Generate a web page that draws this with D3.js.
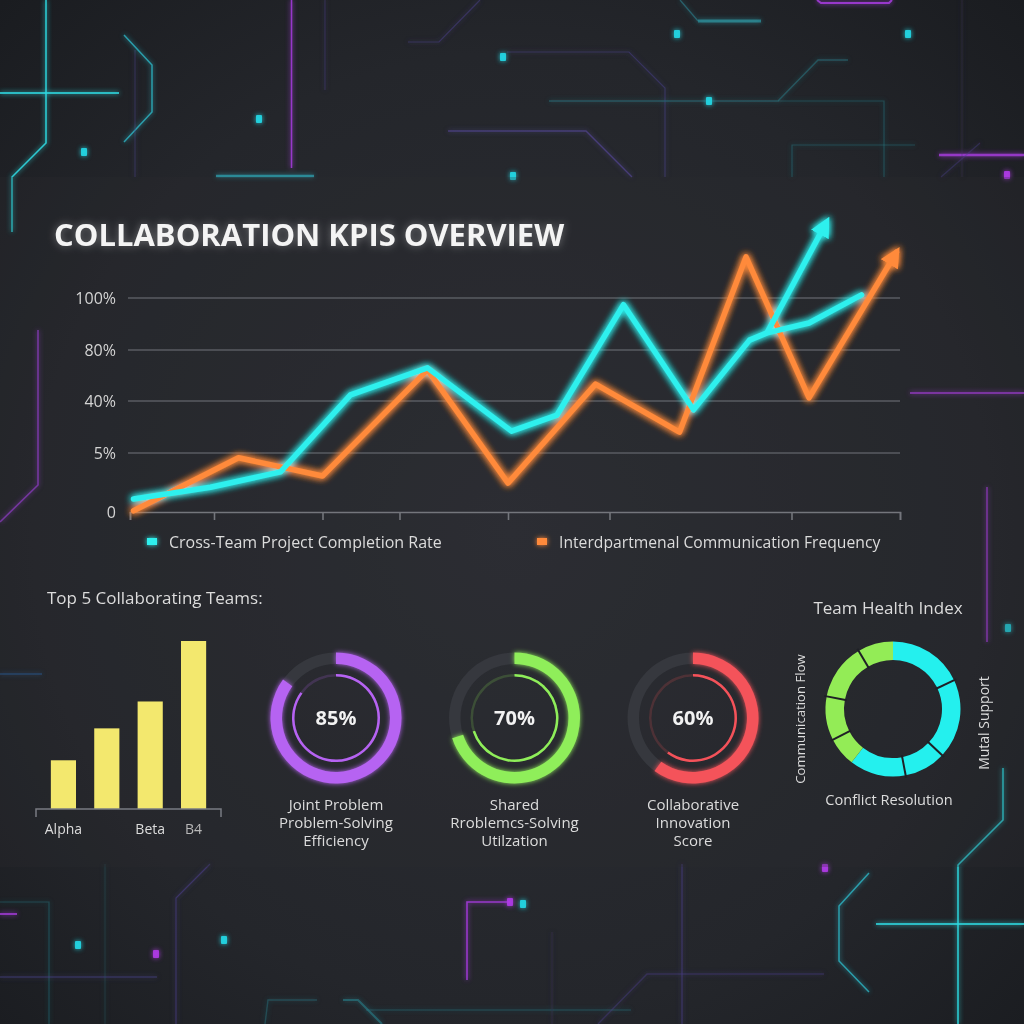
<!DOCTYPE html>
<html>
<head>
<meta charset="utf-8">
<script src="https://cdn.jsdelivr.net/npm/d3@7"></script>
<style>
  html, body { margin: 0; padding: 0; background: #202227; }
  svg { display: block; font-family: "Open Sans", "Noto Sans", sans-serif; }
</style>
</head>
<body>
<script>
// ---- Line chart data (x = week index, y = level on the KPI band scale) ----
const yTickLabels = ["0", "5%", "40%", "80%", "100%"];
const xTickWeeks = [0, 2.4, 5.5, 7.7, 10.8, 13.7, 18.9, 22];

const completionWeeks  = [0.1, 2.3, 4.3, 6.3, 8.5, 10.9, 12.2, 14.1, 16.1, 17.7, 18.2, 19.4, 20.9];
const completionLevels = [0.22, 0.42, 0.68, 2.12, 2.65, 1.42, 1.73, 3.87, 1.83, 3.19, 3.33, 3.52, 4.06];
const completionTrendWeeks  = [18.2, 19.9];
const completionTrendLevels = [3.33, 5.46];

const commWeeks  = [0.1, 3.1, 5.5, 8.5, 10.8, 13.3, 15.7, 17.6, 19.4, 21.9];
const commLevels = [0.02, 0.92, 0.61, 2.61, 0.49, 2.33, 1.40, 4.79, 2.06, 4.88];

const seriesNames = ["Cross-Team Project Completion Rate", "Interdpartmenal Communication Frequency"];

// ---- Bar chart data ----
const teamNames  = ["Alpha", "", "Beta", "B4"];
const teamScores = [29, 48, 64, 100];

// ---- Gauges ----
const gaugeValues = [85, 70, 60];
const gaugeLabels = [
  ["Joint Problem", "Problem-Solving", "Efficiency"],
  ["Shared", "Rroblemcs-Solving", "Utilzation"],
  ["Collaborative", "Innovation", "Score"]
];

// ---- Team Health Index donut ----
const healthValues = [18, 19, 10, 13.5, 7, 10.5, 13.5, 8.5];
const healthGroups = ["Mutal Support", "Mutal Support", "Mutal Support", "Mutal Support",
                      "Communication Flow", "Communication Flow", "Communication Flow", "Communication Flow"];

// ---- Palette ----
const CYAN = "#2ff0ee", ORANGE = "#ff8a3a", YELLOW = "#f3e86e";
const gaugeColors = ["#b663f2", "#8fee5a", "#f4525a"];
const TEXT = "#dcdcdc";

const W = 1024, H = 1024;
const svg = d3.select("body").append("svg").attr("width", W).attr("height", H);
const defs = svg.append("defs");

// background vignette
const bg = defs.append("radialGradient").attr("id", "bg").attr("cx", "50%").attr("cy", "52%").attr("r", "72%");
bg.append("stop").attr("offset", "0%").attr("stop-color", "#2c2e34");
bg.append("stop").attr("offset", "65%").attr("stop-color", "#24262b");
bg.append("stop").attr("offset", "100%").attr("stop-color", "#1a1c20");

// glow filters work in user space, with a region large enough for translated groups
function glowFilter(id, sd, strength) {
  const f = defs.append("filter").attr("id", id).attr("filterUnits", "userSpaceOnUse")
    .attr("x", -W).attr("y", -H).attr("width", 3 * W).attr("height", 3 * H);
  f.append("feGaussianBlur").attr("in", "SourceGraphic").attr("stdDeviation", sd).attr("result", "b");
  const m = f.append("feMerge");
  for (let i = 0; i < strength; i++) m.append("feMergeNode").attr("in", "b");
  m.append("feMergeNode").attr("in", "SourceGraphic");
}
glowFilter("glow", 3.5, 2);
glowFilter("softglow", 2.5, 1);
defs.append("filter").attr("id", "blur4").attr("filterUnits", "userSpaceOnUse")
  .attr("x", -W).attr("y", -H).attr("width", 3 * W).attr("height", 3 * H)
  .append("feGaussianBlur").attr("stdDeviation", 4);

svg.append("rect").attr("width", W).attr("height", H).attr("fill", "url(#bg)");

// ---- circuit-board decoration ----
const decor = [
  ["M46,0 V143 L12,177 V232", "#2fd8e0", 1.6, 0.9],
  ["M0,93 H119", "#2fd8e0", 2, 0.8],
  ["M124,35 L152,65 V112 L124,142", "#2fc8d8", 1.5, 0.7],
  ["M135,50 V177", "#4a3f8a", 1, 0.5],
  ["M291.5,0 V168", "#a23bd8", 1.6, 0.9],
  ["M216,176 H314", "#2fb8c8", 2.5, 0.6],
  ["M325,0 V90", "#4a3f8a", 1.2, 0.4],
  ["M408,42 H439 L480,0", "#4a3f8a", 1.2, 0.5],
  ["M507,52 H629 L665,88 V177", "#4a3f8a", 1.2, 0.5],
  ["M448,131 H586 L632,177", "#5a4aa0", 1.4, 0.6],
  ["M680,0 L698,21", "#2fb0c0", 1.2, 0.4],
  ["M698,21 H761", "#2fb0c0", 3, 0.55],
  ["M817,0 L821,3 H889 L892,0", "#a23bd8", 2, 0.9],
  ["M549,101 H778 L818,60 H848", "#2a7d8a", 1.4, 0.5],
  ["M778,101 H884 V177", "#2a7d8a", 1.2, 0.4],
  ["M792,177 V145 H915", "#2a7d8a", 1.2, 0.4],
  ["M939,155 H1024", "#a23bd8", 2.5, 0.85],
  ["M941,177 L980,143", "#4a3f8a", 1.2, 0.4],
  ["M962,0 V177", "#3a3560", 1, 0.35],
  ["M38,330 V485 L0,522", "#9b3ed8", 1.6, 0.85],
  ["M0,674 H42", "#2a60a0", 2, 0.5],
  ["M910,393 H1024", "#a23bd8", 2, 0.85],
  ["M987,487 V642", "#a23bd8", 1.6, 0.85],
  ["M1003,768 V820 L958,865 V1024", "#2fd8e0", 1.6, 0.9],
  ["M876,924 H1024", "#2fd8e0", 2, 0.8],
  ["M869,873 L839,906 V961 L869,992", "#2fc8d8", 1.5, 0.7],
  ["M467,980 V902 H510", "#a23bd8", 1.6, 0.9],
  ["M682,864 V1024", "#4a3f8a", 1.2, 0.6],
  ["M210,864 L176,898 V1024", "#4a3f8a", 1.2, 0.6],
  ["M0,914 H17", "#a23bd8", 2, 0.8],
  ["M0,902 H49 V1024", "#2a7d8a", 1.2, 0.4],
  ["M0,977 H157", "#4a3f8a", 1.4, 0.5],
  ["M265,1024 L268,1000 H317", "#2a7d8a", 1.4, 0.4],
  ["M343,1000 H358 L382,1024", "#2a8d9a", 2, 0.5],
  ["M366,1010 H631", "#2a7d8a", 1.4, 0.3],
  ["M598,1024 L647,974 H824", "#4a3f8a", 1.4, 0.4],
  ["M552,932 V1024", "#3a3560", 1, 0.4],
  ["M105,864 V1024", "#2a6d7a", 1, 0.3]
];
const decorDots = [
  [259, 119, "#22d8e6"], [84, 152, "#22d8e6"], [503, 57, "#22d8e6"], [677, 34, "#22d8e6"],
  [908, 34, "#22d8e6"], [709, 101, "#22d8e6"], [513, 176, "#22d8e6"], [1008, 628, "#22d8e6"],
  [224, 940, "#22d8e6"], [78, 945, "#22d8e6"], [523, 904, "#22d8e6"],
  [1007, 175, "#b03be8"], [825, 868, "#b03be8"], [156, 954, "#b03be8"], [510, 902, "#b03be8"]
];
const gDecor = svg.append("g").attr("filter", "url(#softglow)");
gDecor.selectAll("path").data(decor).join("path")
  .attr("d", d => d[0]).attr("fill", "none").attr("stroke", d => d[1])
  .attr("stroke-width", d => d[2]).attr("opacity", d => d[3]);
gDecor.selectAll("rect").data(decorDots).join("rect")
  .attr("x", d => d[0] - 3).attr("y", d => d[1] - 4).attr("width", 6).attr("height", 8).attr("rx", 1)
  .attr("fill", d => d[2]).attr("opacity", 0.9);

// main panel tone
svg.append("rect").attr("x", 0).attr("y", 177).attr("width", W).attr("height", 690)
  .attr("fill", "#2a2c31").attr("opacity", 0.25);

// ---- Title (soft halo under crisp text) ----
const titleText = "COLLABORATION KPIS OVERVIEW";
svg.append("text").attr("x", 54).attr("y", 246)
  .attr("font-size", 31).attr("font-weight", 700).attr("fill", "#ffffff")
  .attr("opacity", 0.35).attr("filter", "url(#blur4)").text(titleText);
svg.append("text").attr("x", 54).attr("y", 246)
  .attr("font-size", 31).attr("font-weight", 700).attr("fill", "#f4f4f4").text(titleText);

// ---- Line chart ----
const x = d3.scaleLinear().domain([0, 22]).range([130, 900]);
const y = d3.scaleLinear().domain([0, 1, 2, 3, 4]).range([512, 453, 401, 350, 298]);

const gGrid = svg.append("g");
gGrid.selectAll("line").data([1, 2, 3, 4]).join("line")
  .attr("x1", 128).attr("x2", 900).attr("y1", d => y(d)).attr("y2", d => y(d))
  .attr("stroke", "#5a5c62").attr("stroke-width", 1.5);

const yAxis = svg.append("g").attr("transform", "translate(116,0)")
  .call(d3.axisLeft(y).tickValues([0, 1, 2, 3, 4]).tickSize(0).tickFormat(i => yTickLabels[i]));
yAxis.select(".domain").remove();
yAxis.selectAll("text").attr("fill", "#d4d4d4").attr("font-size", 16)
  .attr("font-family", "Open Sans").attr("x", 0);

const xAxis = svg.append("g").attr("transform", `translate(0,${y(0)})`)
  .call(d3.axisBottom(x).tickValues(xTickWeeks).tickSize(8).tickSizeOuter(8).tickFormat(""));
xAxis.selectAll("path, line").attr("stroke", "#74767c").attr("stroke-width", 1.6);

// arrowheads
function arrowMarker(id, color) {
  defs.append("marker").attr("id", id).attr("viewBox", "0 0 10 10")
    .attr("refX", 7).attr("refY", 5).attr("markerUnits", "userSpaceOnUse")
    .attr("markerWidth", 20).attr("markerHeight", 20).attr("orient", "auto")
    .append("path").attr("d", "M0,0 L10,5 L0,10 Z").attr("fill", color);
}
arrowMarker("arrowCyan", CYAN);
arrowMarker("arrowOrange", ORANGE);

const line = d3.line().x(d => x(d[0])).y(d => y(d[1]));
const zip = (a, b) => a.map((v, i) => [v, b[i]]);

const gLines = svg.append("g").attr("filter", "url(#glow)")
  .attr("fill", "none").attr("stroke-width", 5.5).attr("stroke-linejoin", "round");
gLines.append("path").datum(zip(commWeeks, commLevels))
  .attr("d", line).attr("stroke", ORANGE).attr("stroke-linecap", "round")
  .attr("marker-end", "url(#arrowOrange)");
gLines.append("path").datum(zip(completionWeeks, completionLevels))
  .attr("d", line).attr("stroke", CYAN).attr("stroke-linecap", "round");
gLines.append("path").datum(zip(completionTrendWeeks, completionTrendLevels))
  .attr("d", line).attr("stroke", CYAN).attr("marker-end", "url(#arrowCyan)");

// legend
const legendX = [147, 537];
const legendColors = [CYAN, ORANGE];
const gLeg = svg.append("g");
seriesNames.forEach((name, i) => {
  gLeg.append("rect").attr("x", legendX[i]).attr("y", 538).attr("width", 10).attr("height", 7)
    .attr("fill", legendColors[i]).attr("filter", "url(#softglow)");
  gLeg.append("text").attr("x", legendX[i] + 22).attr("y", 548)
    .attr("font-size", i === 0 ? 16 : 15.7).attr("fill", TEXT).text(name);
});

// ---- Bar chart ----
svg.append("text").attr("x", 47).attr("y", 604).attr("font-size", 17).attr("fill", TEXT)
  .text("Top 5 Collaborating Teams:");

const xb = d3.scaleBand().domain(d3.range(teamScores.length)).range([40, 217])
  .paddingInner(0.42).paddingOuter(0.25);
const yb = d3.scaleLinear().domain([0, 100]).range([809, 641]);

svg.append("g").selectAll("rect").data(teamScores).join("rect")
  .attr("x", (d, i) => xb(i)).attr("width", xb.bandwidth())
  .attr("y", d => yb(d)).attr("height", d => yb(0) - yb(d))
  .attr("fill", YELLOW);

svg.append("path").attr("d", `M36,817 V${yb(0)} H221 V817`)
  .attr("fill", "none").attr("stroke", "#7a7c82").attr("stroke-width", 1.5);

svg.append("g").selectAll("text").data(teamNames).join("text")
  .attr("x", (d, i) => xb(i) + xb.bandwidth() / 2).attr("y", 834)
  .attr("text-anchor", "middle").attr("font-size", 14)
  .attr("fill", (d, i) => i === teamNames.length - 1 ? "#b8b8b8" : TEXT)
  .text(d => d);

// ---- Gauges ----
const gaugeCx = d3.scalePoint().domain(d3.range(gaugeValues.length)).range([336, 693]);
const outerArc = d3.arc().innerRadius(54).outerRadius(65.5).startAngle(0);
const innerArc = d3.arc().innerRadius(41.5).outerRadius(44).startAngle(0);

gaugeValues.forEach((v, i) => {
  const g = svg.append("g").attr("transform", `translate(${gaugeCx(i)},718)`);
  const c = gaugeColors[i];
  g.append("path").attr("d", outerArc({ endAngle: 2 * Math.PI })).attr("fill", "#36383e");
  g.append("path").attr("d", innerArc({ endAngle: 2 * Math.PI })).attr("fill", c).attr("opacity", 0.18);
  g.append("path").attr("d", outerArc({ endAngle: v / 100 * 2 * Math.PI })).attr("fill", c)
    .attr("filter", "url(#softglow)");
  g.append("path").attr("d", innerArc({ endAngle: v / 100 * 2 * Math.PI })).attr("fill", c);
  g.append("text").attr("y", 7).attr("text-anchor", "middle").attr("font-size", 20)
    .attr("font-weight", 700).attr("fill", "#f2f2f2").text(v + "%");
  g.append("text").attr("text-anchor", "middle").attr("font-size", 15).attr("fill", TEXT)
    .selectAll("tspan").data(gaugeLabels[i]).join("tspan")
    .attr("x", 0).attr("y", (d, j) => 92 + j * 18).text(d => d);
});

// ---- Team Health Index ----
svg.append("text").attr("x", 888).attr("y", 614).attr("text-anchor", "middle")
  .attr("font-size", 17).attr("fill", TEXT).text("Team Health Index");

const healthColor = d3.scaleOrdinal().domain(["Mutal Support", "Communication Flow"])
  .range(["#24f0ee", "#93ec56"]);
const pie = d3.pie().sort(null).value(d => d);
const arcs = pie(healthValues);
const donutArc = d3.arc().innerRadius(49).outerRadius(67.5);
const gD = svg.append("g").attr("transform", "translate(893,709)");
gD.selectAll("path").data(arcs).join("path")
  .attr("d", donutArc).attr("fill", (d, i) => healthColor(healthGroups[i]));
// separators between neighbouring segments of the same group
gD.selectAll("line").data(arcs.filter((d, i) => i > 0 && healthGroups[i] === healthGroups[i - 1]))
  .join("line")
  .attr("x1", d => 47 * Math.sin(d.startAngle)).attr("y1", d => -47 * Math.cos(d.startAngle))
  .attr("x2", d => 70 * Math.sin(d.startAngle)).attr("y2", d => -70 * Math.cos(d.startAngle))
  .attr("stroke", "#1f2126").attr("stroke-width", 2);

svg.append("text").attr("transform", "translate(805,719) rotate(-90)").attr("text-anchor", "middle")
  .attr("font-size", 13.2).attr("fill", TEXT).text("Communication Flow");
svg.append("text").attr("transform", "translate(989,723) rotate(-90)").attr("text-anchor", "middle")
  .attr("font-size", 14).attr("fill", TEXT).text("Mutal Support");
svg.append("text").attr("x", 889).attr("y", 805).attr("text-anchor", "middle")
  .attr("font-size", 14.6).attr("fill", TEXT).text("Conflict Resolution");
</script>
</body>
</html>
